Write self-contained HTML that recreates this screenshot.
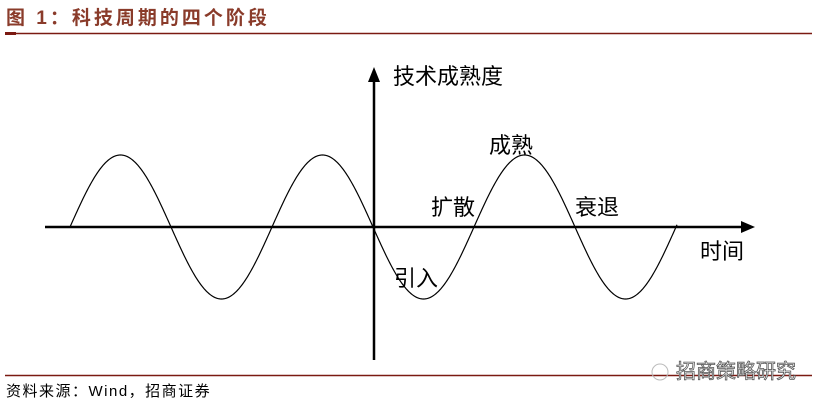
<!DOCTYPE html>
<html><head><meta charset="utf-8"><style>
body{margin:0;width:822px;height:407px;background:#fff;overflow:hidden;font-family:"Liberation Sans","Noto Sans CJK SC",sans-serif}
</style></head><body>
<svg width="822" height="407" viewBox="0 0 822 407" xmlns="http://www.w3.org/2000/svg" style="position:absolute;left:0;top:0">
<text x="6" y="24" font-size="19" font-weight="bold" fill="#8a3b2a" letter-spacing="3" font-family="Liberation Sans,Noto Sans CJK SC,sans-serif">图 1：科技周期的四个阶段</text>
<line x1="5" y1="33.5" x2="812" y2="33.5" stroke="#7b1a12" stroke-width="1.5"/>
<line x1="5" y1="33.5" x2="16" y2="33.5" stroke="#7b1a12" stroke-width="3"/>
<line x1="45" y1="227" x2="745" y2="227" stroke="#000" stroke-width="2.5"/>
<polygon points="755,227 741,221 741,233" fill="#000"/>
<line x1="374" y1="360" x2="374" y2="80" stroke="#000" stroke-width="2.5"/>
<polygon points="374,67 368,82 380,82" fill="#000"/>
<path id="s" fill="none" stroke="#000" stroke-width="1.2" d=""/>
<script>
var d="";for(var x=70;x<=677;x+=1){var y=227-72*Math.sin((x-70)/202*2*Math.PI);d+=(x==70?"M":"L")+x+","+y.toFixed(2);}
document.getElementById("s").setAttribute("d",d);
</script>
<g font-size="22" fill="#000" font-family="Liberation Sans,Noto Sans CJK SC,sans-serif">
<text x="393" y="84">技术成熟度</text>
<text x="489" y="153">成熟</text>
<text x="431" y="215">扩散</text>
<text x="575" y="215">衰退</text>
<text x="394" y="286">引入</text>
<text x="700" y="259">时间</text>
</g>
<line x1="5" y1="375.5" x2="812" y2="375.5" stroke="#7b1a12" stroke-width="1.5"/>
<circle cx="660" cy="372" r="8" fill="none" stroke="#bbb" stroke-width="1"/>
<text x="676" y="378" font-size="20" fill="#fff" stroke="#555" stroke-width="0.8" font-family="Liberation Sans,Noto Sans CJK SC,sans-serif">招商策略研究</text>
<text x="6" y="396" font-size="15" fill="#000" letter-spacing="1.5" font-family="Liberation Sans,Noto Sans CJK SC,sans-serif">资料来源：Wind，招商证券</text>
</svg>
</body></html>
